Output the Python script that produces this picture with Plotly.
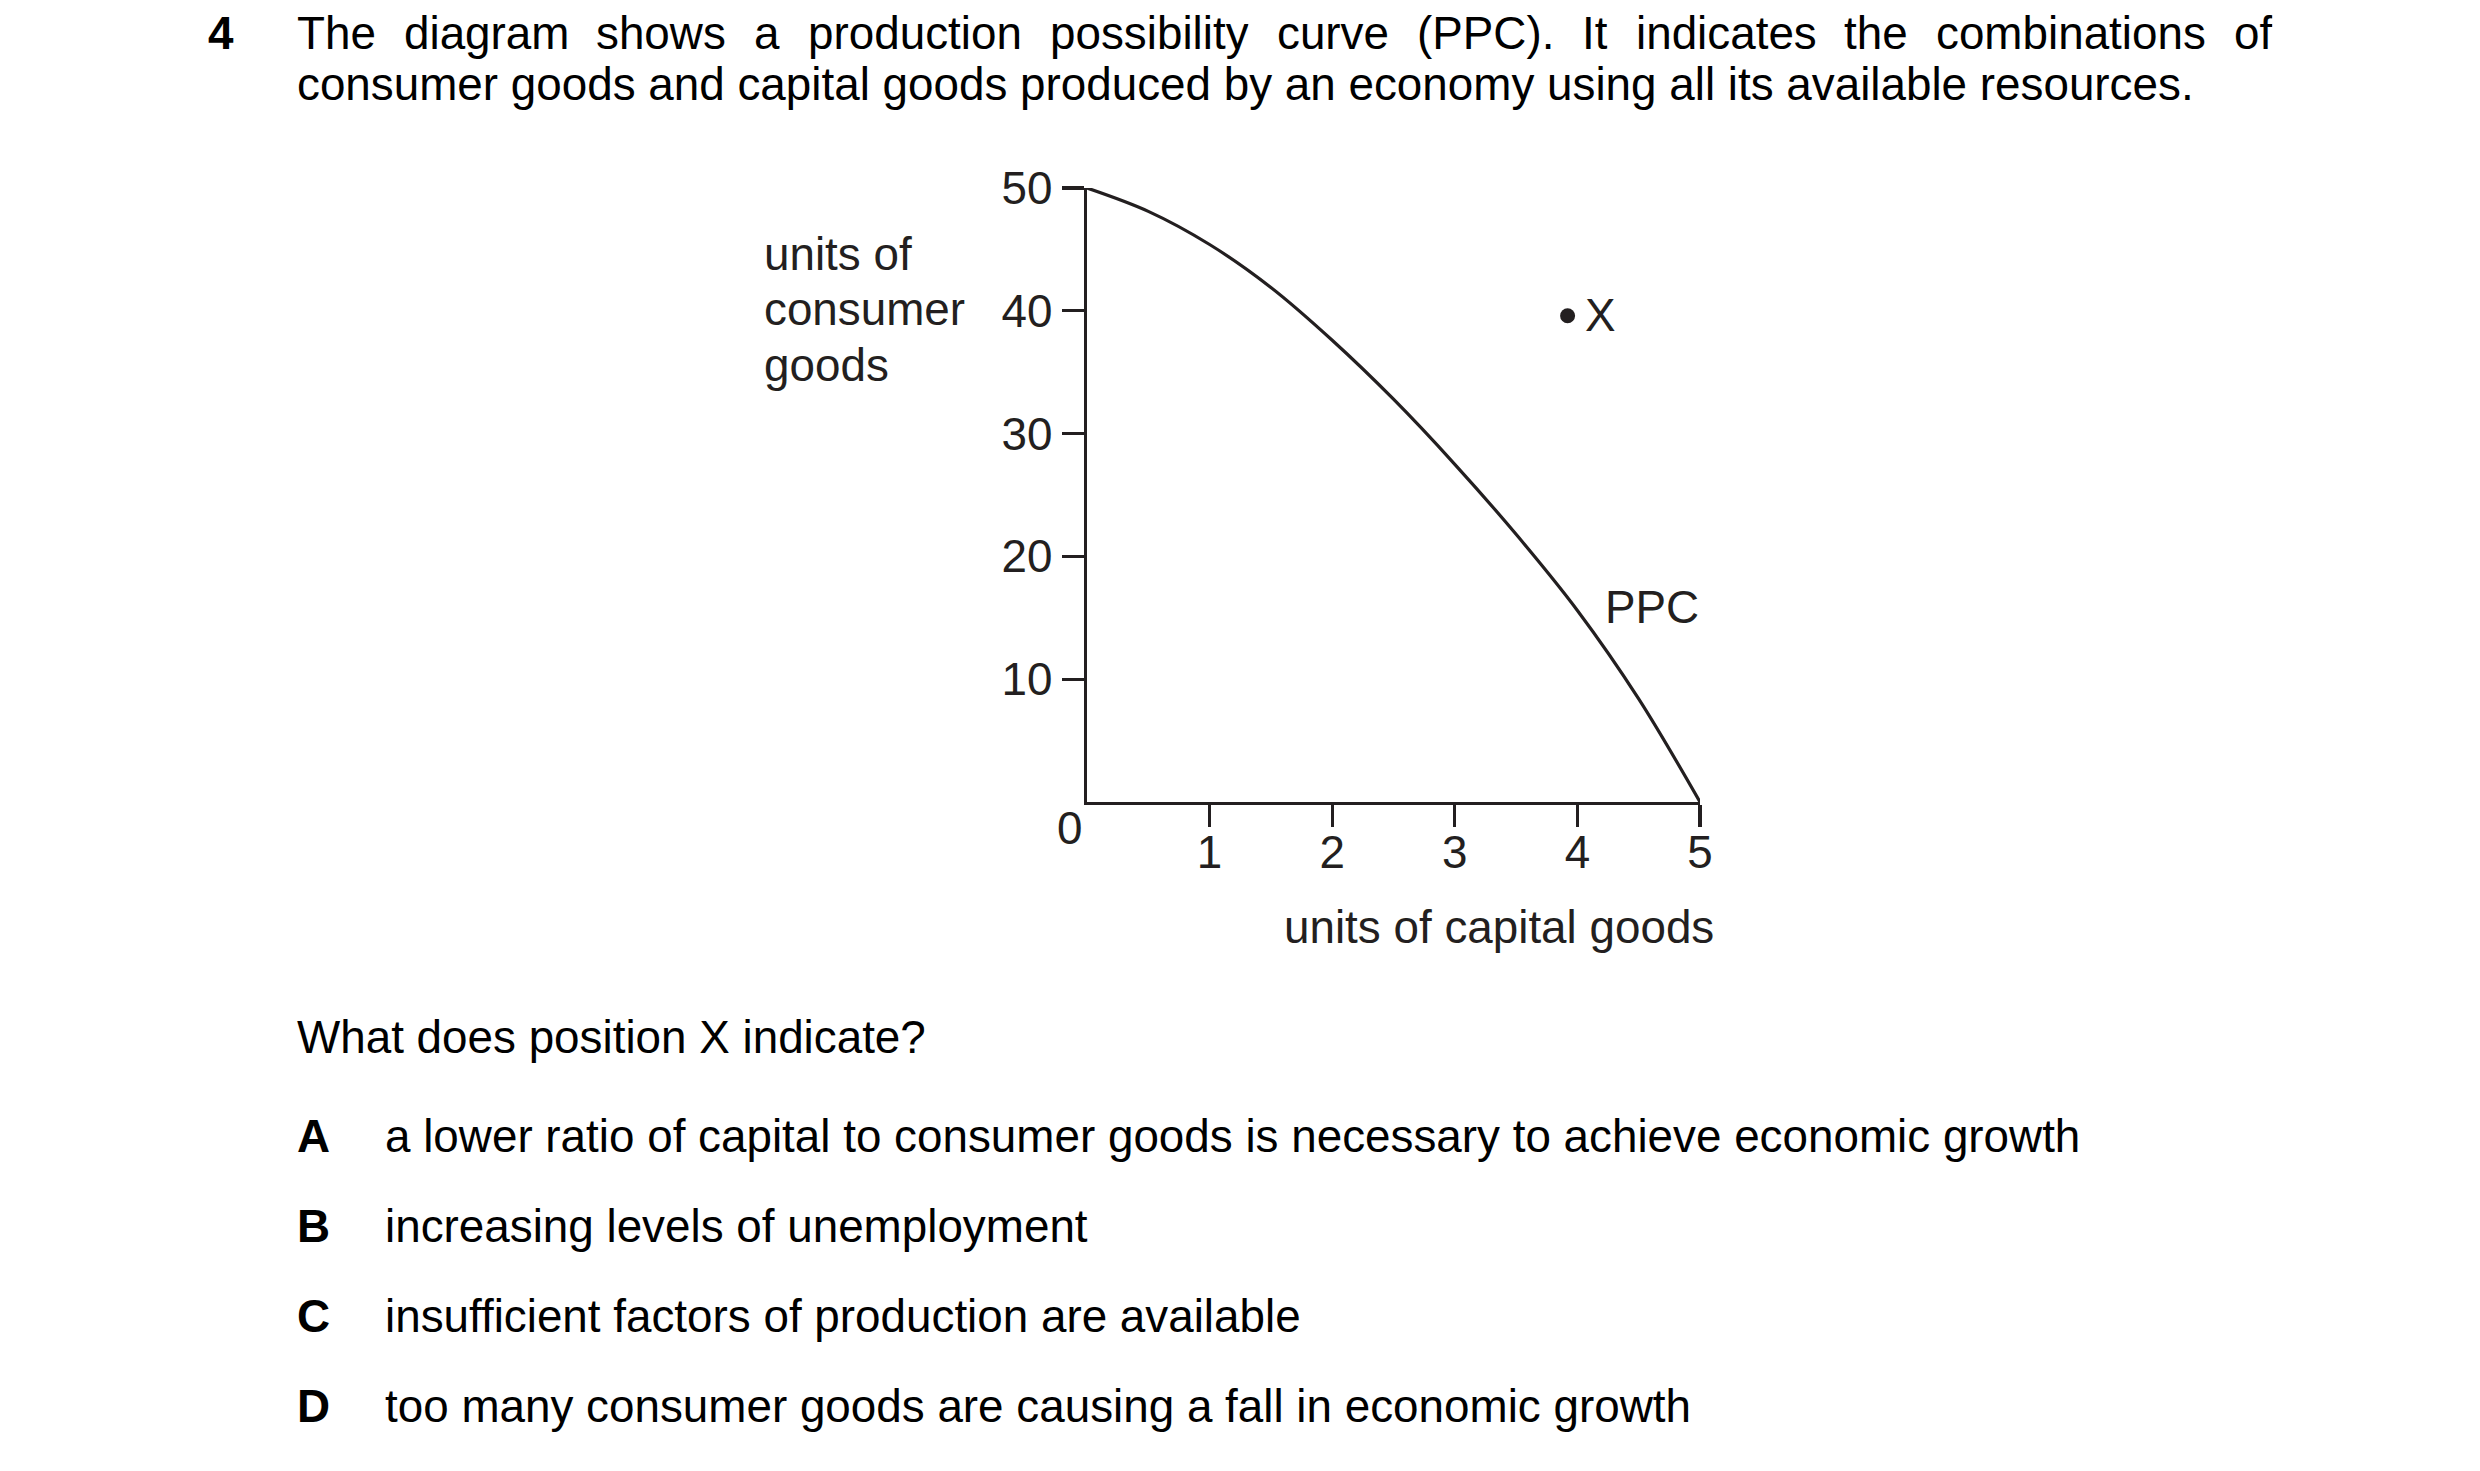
import plotly.graph_objects as go

# ---- data ----
ppc_x = [0, 0.5, 1.0, 1.5, 2.0, 2.5, 3.0, 3.5, 4.0, 4.5, 5.0]
ppc_y = [50, 48.1, 45.4, 41.9, 37.6, 32.8, 27.5, 21.8, 15.6, 8.4, 0]
point_x = [3.92]
point_y = [39.6]
x_ticks = [1, 2, 3, 4, 5]
y_ticks = [10, 20, 30, 40, 50]

header_words = ["The", "diagram", "shows", "a", "production", "possibility", "curve",
                "(PPC).", "It", "indicates", "the", "combinations", "of"]
header_word_x = [296, 403, 596, 754, 808, 1050, 1277, 1417, 1582, 1636, 1845, 1937, 2235]
header_line2 = "consumer goods and capital goods produced by an economy using all its available resources."
question = "What does position X indicate?"
option_letters = ["A", "B", "C", "D"]
option_texts = [
    "a lower ratio of capital to consumer goods is necessary to achieve economic growth",
    "increasing levels of unemployment",
    "insufficient factors of production are available",
    "too many consumer goods are causing a fall in economic growth",
]
y_title_lines = ["units of", "consumer", "goods"]
x_title = "units of capital goods"

# ---- layout geometry (page pixel coordinates; page body has an 8px margin) ----
OFF = 8
WIDTH, HEIGHT = 2480 - 2 * OFF, 1471 - 2 * OFF
PAGE_L, PAGE_R_EDGE, PAGE_T, PAGE_B_EDGE = 1087, 1700.5, 188.4, 801.8
L = PAGE_L - OFF
T = PAGE_T - OFF
PW = PAGE_R_EDGE - PAGE_L
PH = PAGE_B_EDGE - PAGE_T
R = WIDTH - L - PW
B = HEIGHT - T - PH
INK = "#231f20"
FONT = "Liberation Sans, Arial, sans-serif"
FS = 45.8


def px(x):
    return (x - OFF - L) / PW


def py(y):
    return 1 - (y - OFF - T) / PH


fig = go.Figure()
fig.add_trace(go.Scatter(x=ppc_x, y=ppc_y, mode="lines",
                         line=dict(color=INK, width=3.2, shape="spline", smoothing=1.0),
                         cliponaxis=False, hoverinfo="skip"))
fig.add_trace(go.Scatter(x=point_x, y=point_y, mode="markers",
                         marker=dict(color=INK, size=15),
                         cliponaxis=False, hoverinfo="skip"))

ann = []


def add(text, x, y, xanchor="left", size=FS, color="black", bold=False,
        xref="paper", yref="paper", height=None):
    t = f"<b>{text}</b>" if bold else text
    a = dict(text=t, x=x, y=y, xref=xref, yref=yref, xanchor=xanchor, yanchor="middle",
             showarrow=False, borderpad=0, borderwidth=0, valign="middle",
             font=dict(family=FONT, size=size, color=color))
    if height is not None:
        a["height"] = height
    ann.append(a)


# header (first line fully justified)
HY1 = 34
add("4", px(207), py(HY1), bold=True, height=52)
for w, wx in zip(header_words, header_word_x):
    add(w, px(wx), py(HY1), height=52)
add(header_line2, px(296), py(85))

# y axis title
for i, line in enumerate(y_title_lines):
    add(line, px(764), py(254.6 + 55.4 * i), color=INK)

# x axis title
add(x_title, px(1499.4), py(926.8), xanchor="center", color=INK)

# origin label
add("0", px(1069), py(828), xanchor="center", color=INK)

# in-chart labels
add("X", 4.19, 39.6, xanchor="center", color=INK, xref="x", yref="y")
add("PPC", 4.61, 15.8, xanchor="center", color=INK, xref="x", yref="y")

# question and options
add(question, px(296), py(1037.5))
opt_y = [1135.6, 1225.8, 1315.9, 1406]
for letter, text, oy in zip(option_letters, option_texts, opt_y):
    add(letter, px(296), py(oy), bold=True)
    add(text, px(384), py(oy))

fig.update_layout(
    width=WIDTH, height=HEIGHT, autosize=False,
    margin=dict(l=L, r=R, t=T, b=B, pad=0),
    paper_bgcolor="white", plot_bgcolor="white",
    showlegend=False,
    annotations=ann,
    font=dict(family=FONT, size=FS, color=INK),
)
fig.update_xaxes(range=[0, 5], tickmode="array", tickvals=x_ticks,
                 ticktext=[str(v) for v in x_ticks],
                 showline=True, linecolor=INK, linewidth=3.3,
                 ticks="outside", ticklen=22, tickwidth=3.2, tickcolor=INK,
                 ticklabelstandoff=-14,
                 showgrid=False, zeroline=False, fixedrange=True,
                 tickfont=dict(family=FONT, size=FS, color=INK))
fig.update_yaxes(range=[0, 50], tickmode="array", tickvals=y_ticks,
                 ticktext=[str(v) for v in y_ticks],
                 showline=True, linecolor=INK, linewidth=3.3,
                 ticks="outside", ticklen=22, tickwidth=3.2, tickcolor=INK,
                 showgrid=False, zeroline=False, fixedrange=True,
                 tickfont=dict(family=FONT, size=FS, color=INK))

fig.write_html("out.html", config={"displayModeBar": False, "staticPlot": True})
